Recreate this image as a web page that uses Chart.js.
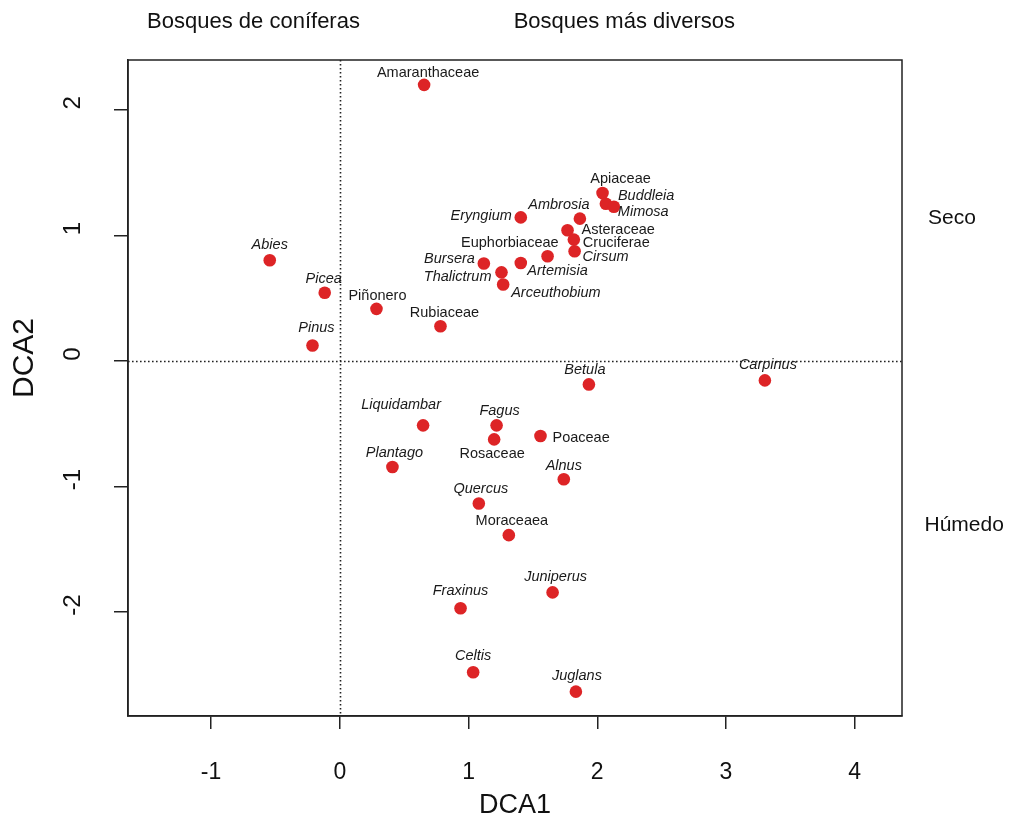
<!DOCTYPE html>
<html>
<head>
<meta charset="utf-8">
<script src="https://cdn.jsdelivr.net/npm/chart.js@4.4.1/dist/chart.umd.min.js"></script>
<style>
  html, body { margin: 0; padding: 0; background: #fff; }
  #wrap { width: 1011px; height: 827px; }
</style>
</head>
<body>
<div id="wrap"><canvas id="c" width="1011" height="827"></canvas></div>
<script>
// ---- data ----
const taxa = ['Amaranthaceae','Apiaceae','Buddleia','Mimosa','Ambrosia','Eryngium','Asteraceae','Cruciferae','Cirsum','Artemisia','Euphorbiaceae','Bursera','Thalictrum','Arceuthobium','Rubiaceae','Abies','Picea','Piñonero','Pinus','Betula','Carpinus','Liquidambar','Fagus','Rosaceae','Poaceae','Plantago','Alnus','Quercus','Moraceaea','Juniperus','Fraxinus','Celtis','Juglans'];
const dca1 = [0.655, 2.041, 2.067, 2.129, 1.865, 1.406, 1.769, 1.818, 1.824, 1.614, 1.406, 1.119, 1.256, 1.269, 0.782, -0.544, -0.117, 0.285, -0.212, 1.935, 3.302, 0.647, 1.218, 1.199, 1.559, 0.409, 1.740, 1.080, 1.313, 1.653, 0.938, 1.036, 1.834];
const dca2 = [2.200, 1.338, 1.253, 1.229, 1.134, 1.144, 1.041, 0.967, 0.874, 0.834, 0.781, 0.776, 0.706, 0.609, 0.277, 0.802, 0.543, 0.415, 0.123, -0.187, -0.155, -0.513, -0.513, -0.625, -0.598, -0.845, -0.943, -1.136, -1.388, -1.844, -1.971, -2.480, -2.635];
const isGenus = [0,0,1,1,1,1,0,0,1,1,0,1,1,1,0,1,1,0,1,1,1,1,1,0,0,1,1,1,0,1,1,1,1];
const xTickValues = [-1, 0, 1, 2, 3, 4];
const yTickValues = [-2, -1, 0, 1, 2];
const xTitle = 'DCA1';
const yTitle = 'DCA2';
const noteText = ['Bosques de coníferas', 'Bosques más diversos', 'Seco', 'Húmedo'];
const noteX = [-0.67, 2.21, 4.755, 4.85];
const noteY = [2.70, 2.70, 1.14, -1.31];

// ---- label layout (alignment, pixel offset from the point) ----
const labelLayout = [
  ['center', 4, -12], ['center', 18, -14], ['left', 12, -8], ['left', 4, 5],
  ['center', -21, -14], ['right', -9, -1], ['left', 14, 0], ['left', 9, 3],
  ['left', 8, 6], ['center', 10, 15], ['center', -11, -20], ['right', -9, -5],
  ['right', -10, 5], ['left', 8, 8], ['center', 4, -13], ['center', 0, -15],
  ['center', -1, -14], ['center', 1, -13], ['center', 4, -18], ['center', -4, -14],
  ['center', 3, -15], ['center', -22, -20], ['center', 3, -14], ['center', -2, 15],
  ['left', 12, 2], ['center', 2, -14], ['center', 0, -13], ['center', 2, -15],
  ['center', 3, -14], ['center', 3, -15], ['center', 0, -17], ['center', 0, -16],
  ['center', 1, -16]
];

const FONT = '"Liberation Sans", Arial, Helvetica, sans-serif';
const points = dca1.map((x, i) => ({ x: x, y: dca2[i] }));

const zeroLines = {
  id: 'zeroLines',
  beforeDatasetsDraw(chart) {
    const { ctx, chartArea: a, scales: { x, y } } = chart;
    ctx.save();
    ctx.strokeStyle = '#222';
    ctx.lineWidth = 1.6;
    ctx.setLineDash([1.6, 2.4]);
    const px = Math.round(x.getPixelForValue(0)) + 0.5;
    const py = Math.round(y.getPixelForValue(0)) + 0.5;
    ctx.beginPath();
    ctx.moveTo(px, a.top); ctx.lineTo(px, a.bottom);
    ctx.moveTo(a.left, py); ctx.lineTo(a.right, py);
    ctx.stroke();
    ctx.restore();
  }
};

const pointLabels = {
  id: 'pointLabels',
  afterDatasetsDraw(chart) {
    const { ctx } = chart;
    const meta = chart.getDatasetMeta(0);
    ctx.save();
    ctx.fillStyle = '#1a1a1a';
    ctx.textBaseline = 'middle';
    meta.data.forEach((el, i) => {
      const [al, dx, dy] = labelLayout[i];
      ctx.font = (isGenus[i] ? 'italic ' : '') + '14.5px ' + FONT;
      ctx.textAlign = al;
      ctx.fillText(taxa[i], el.x + dx, el.y + dy);
    });
    ctx.restore();
  }
};

const frameAndNotes = {
  id: 'frameAndNotes',
  afterDraw(chart) {
    const { ctx, chartArea: a, scales: { x, y } } = chart;
    ctx.save();
    ctx.strokeStyle = '#222';
    ctx.lineWidth = 1.5;
    ctx.strokeRect(a.left, a.top, a.right - a.left, a.bottom - a.top);
    ctx.fillStyle = '#111';
    ctx.textAlign = 'center';
    ctx.textBaseline = 'middle';
    noteText.forEach((t, i) => {
      ctx.font = (i < 2 ? '22px ' : '21px ') + FONT;
      ctx.fillText(t, x.getPixelForValue(noteX[i]), y.getPixelForValue(noteY[i]));
    });
    // y axis title
    ctx.translate(25, 358);
    ctx.rotate(-Math.PI / 2);
    ctx.font = '30px ' + FONT;
    ctx.fillText(yTitle, 0, 0);
    ctx.restore();
  }
};

new Chart(document.getElementById('c'), {
  type: 'scatter',
  data: {
    datasets: [{
      data: points,
      backgroundColor: 'rgb(221,36,38)',
      borderWidth: 0,
      pointRadius: 6.3,
      pointHoverRadius: 6.3
    }]
  },
  options: {
    responsive: false,
    animation: false,
    events: [],
    layout: { padding: { top: 60, right: 109, left: 0, bottom: 0 } },
    plugins: { legend: { display: false }, tooltip: { enabled: false } },
    scales: {
      x: {
        type: 'linear',
        min: -1.645, max: 4.367,
        afterBuildTicks: s => { s.ticks = xTickValues.map(v => ({ value: v })); },
        afterFit: s => { s.height = 111; },
        grid: { drawOnChartArea: false, drawTicks: true, tickLength: 13, color: '#222', lineWidth: 1.5 },
        border: { display: true, color: '#222', width: 1.5 },
        ticks: { color: '#111', font: { family: FONT, size: 23 }, padding: 30, maxRotation: 0, minRotation: 0, autoSkip: false,
                 callback: v => String(v) },
        title: { display: true, text: xTitle, color: '#111', font: { family: FONT, size: 27 }, padding: { top: 0, bottom: 5 } }
      },
      y: {
        type: 'linear',
        min: -2.829, max: 2.398,
        afterBuildTicks: s => { s.ticks = yTickValues.map(v => ({ value: v })); },
        afterFit: s => { s.width = 128; },
        grid: { drawOnChartArea: false, drawTicks: true, tickLength: 14, color: '#222', lineWidth: 1.5 },
        border: { display: true, color: '#222', width: 1.5 },
        ticks: { color: '#111', font: { family: FONT, size: 24 }, padding: 30, minRotation: 90, maxRotation: 90,
                 crossAlign: 'center', labelOffset: -7, autoSkip: false, callback: v => String(v) },
        title: { display: false }
      }
    }
  },
  plugins: [zeroLines, pointLabels, frameAndNotes]
});
</script>
</body>
</html>
